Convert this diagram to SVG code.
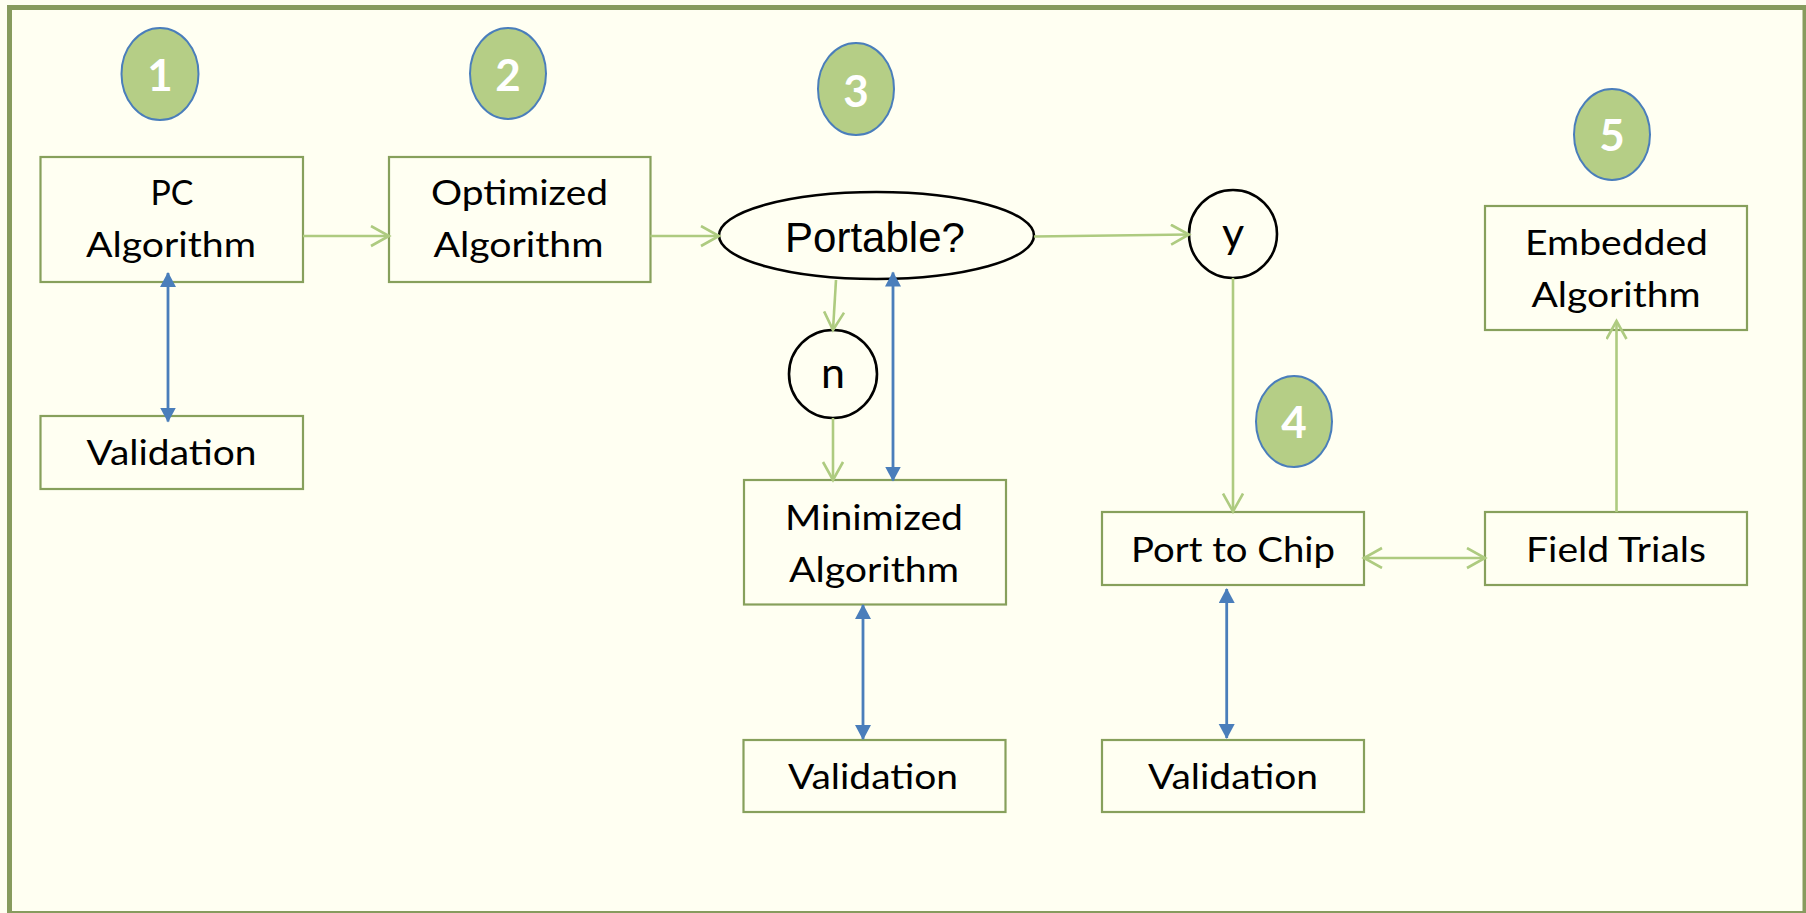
<svg xmlns="http://www.w3.org/2000/svg" width="1806" height="913" viewBox="0 0 1806 913">
  <defs>
    <marker id="blueHead" markerUnits="userSpaceOnUse" markerWidth="18" markerHeight="18" viewBox="0 0 18 18" refX="14" refY="8" orient="auto-start-reverse">
      <path d="M0,0 L15,8 L0,16 Z" fill="#4A7EBB"/>
    </marker>
    <marker id="greenHead" markerUnits="userSpaceOnUse" markerWidth="22" markerHeight="24" viewBox="0 0 22 24" refX="19" refY="11" orient="auto-start-reverse">
      <path d="M1,1 L19,11 L1,21" fill="none" stroke="#AECB80" stroke-width="2.6"/>
    </marker>
  </defs>
  <style>
    .box { fill: #FFFFF2; stroke: #87A05C; stroke-width: 2.2; }
    .label { font-family: Lato, "Open Sans", sans-serif; font-size: 34px; fill: #000; text-anchor: middle; }
    .badge ellipse { fill: #B5CE86; stroke: #4A7EBB; stroke-width: 2; }
    .badge text { font-family: Lato, "Open Sans", sans-serif; font-weight: bold; font-size: 44px; fill: #fff; text-anchor: middle; }
    .dec { fill: #FFFFF2; stroke: #000; stroke-width: 2.6; }
    .letter { font-family: Lato, "Open Sans", sans-serif; font-size: 43px; fill: #000; text-anchor: middle; }
    .flow { stroke: #AECB80; stroke-width: 2.6; fill: none; marker-end: url(#greenHead); }
    .flow2 { stroke: #AECB80; stroke-width: 2.6; fill: none; marker-start: url(#greenHead); marker-end: url(#greenHead); }
    .check { stroke: #4A7EBB; stroke-width: 2.8; fill: none; marker-start: url(#blueHead); marker-end: url(#blueHead); }
  </style>

  <!-- page background and frame -->
  <rect x="0" y="0" width="1806" height="913" fill="#FFFFF2"/>
  <rect x="9.5" y="7.5" width="1795.5" height="906" fill="none" stroke="#879B5E" stroke-width="5"/>

  <!-- step badges -->
  <g id="badge1" class="badge"><ellipse cx="160" cy="74" rx="38.5" ry="46"/><text x="160" y="91">1</text></g>
  <g id="badge2" class="badge"><ellipse cx="508" cy="73.5" rx="38" ry="45.5"/><text x="508" y="91">2</text></g>
  <g id="badge3" class="badge"><ellipse cx="856" cy="89" rx="38" ry="46"/><text x="856" y="106.5">3</text></g>
  <g id="badge4" class="badge"><ellipse cx="1294" cy="421.5" rx="38" ry="45.5"/><text x="1294" y="438">4</text></g>
  <g id="badge5" class="badge"><ellipse cx="1612" cy="134.5" rx="38" ry="45.5"/><text x="1612" y="151">5</text></g>

  <!-- process boxes -->
  <g id="pc-algorithm">
    <rect class="box" x="40.5" y="157" width="262.5" height="125"/>
    <text class="label" x="172" y="205" textLength="43" lengthAdjust="spacingAndGlyphs">PC</text>
    <text class="label" x="171" y="257" textLength="170" lengthAdjust="spacingAndGlyphs">Algorithm</text>
  </g>
  <g id="validation-1">
    <rect class="box" x="40.5" y="416" width="262.5" height="73"/>
    <text class="label" x="171.5" y="465" textLength="170" lengthAdjust="spacingAndGlyphs">Validation</text>
  </g>
  <g id="optimized-algorithm">
    <rect class="box" x="389" y="157" width="261.5" height="125"/>
    <text class="label" x="519.5" y="205" textLength="177" lengthAdjust="spacingAndGlyphs">Optimized</text>
    <text class="label" x="518.5" y="257" textLength="170" lengthAdjust="spacingAndGlyphs">Algorithm</text>
  </g>
  <g id="portable">
    <ellipse class="dec" cx="876.5" cy="235.5" rx="157.5" ry="43.5"/>
    <text x="875" y="252" font-family="'Liberation Sans', Arial, sans-serif" font-size="42" text-anchor="middle" fill="#000">Portable?</text>
  </g>
  <g id="answer-no">
    <circle class="dec" cx="833" cy="374" r="44"/>
    <text class="letter" x="833" y="388">n</text>
  </g>
  <g id="answer-yes">
    <circle class="dec" cx="1233" cy="234" r="44"/>
    <text class="letter" x="1233" y="248">y</text>
  </g>
  <g id="minimized-algorithm">
    <rect class="box" x="744" y="480" width="262" height="124.5"/>
    <text class="label" x="874" y="530" textLength="178" lengthAdjust="spacingAndGlyphs">Minimized</text>
    <text class="label" x="874" y="582" textLength="170" lengthAdjust="spacingAndGlyphs">Algorithm</text>
  </g>
  <g id="validation-2">
    <rect class="box" x="743.5" y="740" width="262" height="72"/>
    <text class="label" x="873" y="789" textLength="170" lengthAdjust="spacingAndGlyphs">Validation</text>
  </g>
  <g id="port-to-chip">
    <rect class="box" x="1102" y="512" width="262" height="73"/>
    <text class="label" x="1233" y="561.5" textLength="204" lengthAdjust="spacingAndGlyphs">Port to Chip</text>
  </g>
  <g id="validation-3">
    <rect class="box" x="1102" y="740" width="262" height="72"/>
    <text class="label" x="1233" y="789" textLength="170" lengthAdjust="spacingAndGlyphs">Validation</text>
  </g>
  <g id="field-trials">
    <rect class="box" x="1485" y="512" width="262" height="73"/>
    <text class="label" x="1616" y="561.5" textLength="180" lengthAdjust="spacingAndGlyphs">Field Trials</text>
  </g>
  <g id="embedded-algorithm">
    <rect class="box" x="1485" y="206" width="262" height="124"/>
    <text class="label" x="1616.5" y="255" textLength="183" lengthAdjust="spacingAndGlyphs">Embedded</text>
    <text class="label" x="1616" y="307" textLength="169" lengthAdjust="spacingAndGlyphs">Algorithm</text>
  </g>

  <!-- connectors, drawn last so arrow tips sit over the box edges -->
  <g id="connectors">
    <line class="flow" x1="303" y1="236" x2="389" y2="236"/>
    <line class="flow" x1="650.5" y1="236" x2="719" y2="236"/>
    <line class="flow" x1="1034" y1="236.5" x2="1189" y2="234.5"/>
    <line class="flow" x1="836" y1="280" x2="833" y2="330"/>
    <line class="flow" x1="833" y1="418" x2="833" y2="480"/>
    <line class="flow" x1="1233" y1="278" x2="1233" y2="511.5"/>
    <line class="flow2" x1="1364" y1="558" x2="1485" y2="558"/>
    <line class="flow" x1="1616.5" y1="512" x2="1616.5" y2="321"/>
    <line class="check" x1="168" y1="273" x2="168" y2="421.5"/>
    <line class="check" x1="893" y1="272.5" x2="893" y2="480.5"/>
    <line class="check" x1="863" y1="605" x2="863" y2="739"/>
    <line class="check" x1="1226.7" y1="589" x2="1226.7" y2="738"/>
  </g>
</svg>
